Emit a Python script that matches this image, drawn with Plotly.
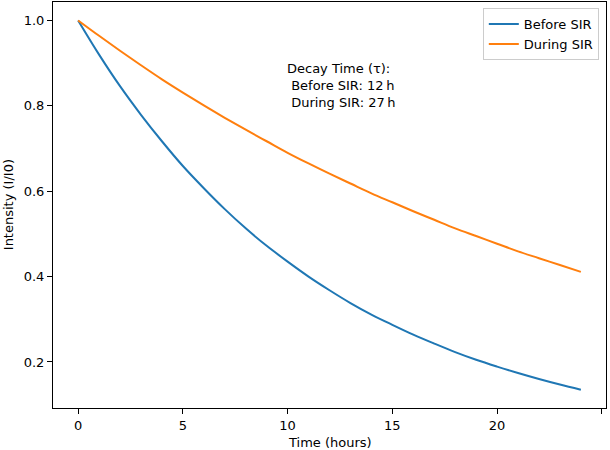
import plotly.graph_objects as go

hours = list(range(0, 25))
before_sir = [1.000, 0.920, 0.846, 0.779, 0.717, 0.659, 0.607, 0.558, 0.513, 0.472,
              0.435, 0.400, 0.368, 0.338, 0.311, 0.287, 0.264, 0.243, 0.223, 0.205,
              0.189, 0.174, 0.160, 0.147, 0.135]
during_sir = [1.000, 0.964, 0.929, 0.895, 0.862, 0.831, 0.801, 0.772, 0.744, 0.717,
              0.690, 0.665, 0.641, 0.618, 0.595, 0.574, 0.553, 0.533, 0.513, 0.495,
              0.477, 0.459, 0.443, 0.427, 0.411]
x_ticks = [0, 5, 10, 15, 20, 25]
y_ticks = [0.2, 0.4, 0.6, 0.8, 1.0]
y_tick_labels = ["0.2", "0.4", "0.6", "0.8", "1.0"]
annotation_text = "Decay Time (τ):<br>\u00a0Before SIR: 12\u2009h<br>\u00a0During SIR: 27\u2009h"

FONT = "DejaVu Sans"

fig = go.Figure()
fig.add_trace(go.Scatter(x=hours, y=before_sir, mode="lines", name="Before SIR",
                         line=dict(color="#1f77b4", width=2, shape="spline")))
fig.add_trace(go.Scatter(x=hours, y=during_sir, mode="lines", name="During SIR",
                         line=dict(color="#ff7f0e", width=2, shape="spline")))

axis_common = dict(showline=True, linecolor="black", linewidth=1, mirror=True,
                   ticks="outside", ticklen=5, tickcolor="black", showgrid=False,
                   zeroline=False, automargin=False,
                   tickfont=dict(family=FONT, size=13, color="black"))

fig.update_layout(
    width=610, height=450,
    margin=dict(l=53, r=4, t=2, b=42),
    plot_bgcolor="white", paper_bgcolor="white",
    font=dict(family=FONT, size=13, color="black"),
    xaxis=dict(range=[-1.2, 25.2], tickvals=x_ticks, **axis_common),
    yaxis=dict(range=[0.0921, 1.0432], tickvals=y_ticks, ticktext=y_tick_labels,
               **axis_common),
    legend=dict(x=0.987, y=0.985, xanchor="right", yanchor="top",
                bgcolor="rgba(255,255,255,0.8)", bordercolor="#cccccc", borderwidth=1,
                font=dict(family=FONT, size=13)),
    annotations=[
        dict(x=9.86, y=0.786, xref="x", yref="y", xanchor="left", yanchor="bottom",
             align="left", showarrow=False, text=annotation_text,
             font=dict(family=FONT, size=13, color="black")),
        dict(x=0.5, y=-0.085, xref="paper", yref="paper", xanchor="center", yanchor="middle",
             showarrow=False, text="Time (hours)", font=dict(family=FONT, size=13)),
        dict(x=-0.081, y=0.5, xref="paper", yref="paper", xanchor="center", yanchor="middle",
             showarrow=False, text="Intensity (I/I0)", textangle=-90,
             font=dict(family=FONT, size=13)),
    ],
)

fig.write_html("out.html", config={"displayModeBar": False},
               post_script="document.body.style.margin='0';document.body.style.overflow='hidden';")
